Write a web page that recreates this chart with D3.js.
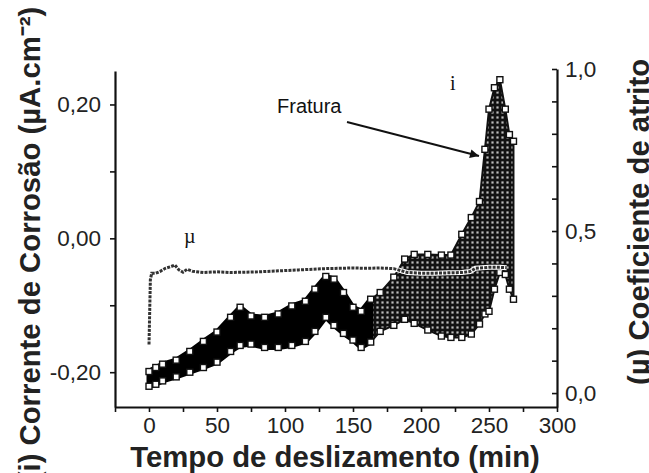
<!DOCTYPE html>
<html>
<head>
<meta charset="utf-8">
<script src="https://cdn.jsdelivr.net/npm/d3@7"></script>
<style>
  body { margin: 0; background: #fff; }
  svg { display: block; }
  .tick text { font-family: "Liberation Sans", Arial, sans-serif; font-size: 22.5px; fill: #222; }
  .title { font-family: "Liberation Sans", Arial, sans-serif; font-weight: bold; font-size: 29.3px; fill: #222; }
</style>
</head>
<body>
<script>
// time (min) and envelope of the corrosion current band (uA.cm-2)
var time = [0, 5, 10, 20, 30, 40, 50, 60, 67, 75, 85, 95, 105, 115, 122, 130, 136, 143, 150, 156, 163,
            170, 180, 188, 195, 205, 215, 222, 230, 237, 243, 247, 250, 254, 258, 262, 265, 268];
var iTop = [-0.199, -0.193, -0.188, -0.182, -0.169, -0.154, -0.140, -0.118, -0.103, -0.116, -0.118, -0.113,
            -0.101, -0.094, -0.076, -0.057, -0.061, -0.081, -0.103, -0.109, -0.091,
            -0.081, -0.058, -0.031, -0.024, -0.024, -0.025, -0.025, 0.006, 0.031, 0.055, 0.133, 0.193,
            0.225, 0.237, 0.193, 0.155, 0.145];
var iBottom = [-0.221, -0.218, -0.213, -0.207, -0.200, -0.193, -0.185, -0.169, -0.160, -0.158, -0.163, -0.163,
               -0.160, -0.154, -0.139, -0.118, -0.130, -0.142, -0.152, -0.163, -0.155,
               -0.139, -0.130, -0.121, -0.127, -0.137, -0.146, -0.148, -0.148, -0.143, -0.128, -0.113, -0.109,
               -0.076, -0.051, -0.054, -0.076, -0.091];
var breakTime = 163; // solid black before, open squares after

// friction coefficient
var muTime = [0, 0.5, 1, 2, 5, 8, 12, 16, 19, 22, 25, 28, 32, 40, 50, 60, 70, 80, 90, 100, 110, 120,
              130, 140, 150, 160, 170, 180, 190, 200, 210, 220, 230, 236, 240, 250, 258, 263];
var muValues = [0.15, 0.25, 0.35, 0.37, 0.37, 0.375, 0.385, 0.39, 0.395, 0.38, 0.373, 0.382, 0.376, 0.372,
                0.374, 0.372, 0.373, 0.374, 0.376, 0.378, 0.38, 0.382, 0.384, 0.385, 0.386, 0.385, 0.386,
                0.384, 0.372, 0.370, 0.370, 0.371, 0.372, 0.375, 0.385, 0.388, 0.388, 0.387];

var xTicks = [0, 50, 100, 150, 200, 250, 300];
var xMinor = [-25, 25, 75, 125, 175, 225, 275];
var leftTicks = [-0.2, 0, 0.2];
var leftMinor = [-0.1, 0.1];
var rightTicks = [0, 0.5, 1];
var rightMinor = [0.1, 0.2, 0.3, 0.4, 0.6, 0.7, 0.8, 0.9];

var W = 649, H = 473;
var svg = d3.select("body").append("svg").attr("width", W).attr("height", H);

var x = d3.scaleLinear().domain([-25, 300]).range([115, 557]);
var yL = d3.scaleLinear().domain([-0.252, 0.25]).range([407, 71]);
var yR = d3.scaleLinear().domain([-0.043, 1]).range([407, 69]);

var pt = d3.formatLocale({decimal: ",", thousands: ".", grouping: [3], currency: ["", ""], minus: "-"});
var f2 = pt.format(".2f"), f1 = pt.format(".1f");

// pattern for the open-square region
var defs = svg.append("defs");
var pat = defs.append("pattern").attr("id", "sq").attr("patternUnits", "userSpaceOnUse")
  .attr("width", 5).attr("height", 5);
pat.append("rect").attr("width", 5).attr("height", 5).attr("fill", "#111");
pat.append("rect").attr("x", 1.4).attr("y", 1.4).attr("width", 2.2).attr("height", 2.2).attr("fill", "#bbb");
defs.append("marker").attr("id", "arr").attr("viewBox", "0 0 10 10").attr("refX", 10).attr("refY", 5)
  .attr("markerWidth", 12).attr("markerHeight", 9).attr("markerUnits", "userSpaceOnUse")
  .attr("orient", "auto")
  .append("path").attr("d", "M0,0L10,5L0,10z").attr("fill", "#111");

var band = time.map(function(t, k){ return {t: t, top: iTop[k], bot: iBottom[k]}; });
var area = d3.area().x(function(d){ return x(d.t); })
  .y0(function(d){ return yL(d.bot); }).y1(function(d){ return yL(d.top); });

var early = band.filter(function(d){ return d.t <= breakTime; });
var late = band.filter(function(d){ return d.t >= breakTime; });

var g = svg.append("g");
g.append("path").datum(late).attr("d", area).attr("fill", "url(#sq)");
g.append("path").datum(late).attr("d", area).attr("fill", "none")
  .attr("stroke", "#111").attr("stroke-width", 2);
g.append("path").datum(early).attr("d", area).attr("fill", "#000")
  .attr("stroke", "#000").attr("stroke-width", 5).attr("stroke-linejoin", "round");

// open square markers along the envelopes
var edgePts = band.map(function(d){ return {t: d.t, v: d.top}; })
  .concat(band.map(function(d){ return {t: d.t, v: d.bot}; }));
g.selectAll("rect.m").data(edgePts).enter().append("rect").attr("class", "m")
  .attr("x", function(d){ return x(d.t) - 3; })
  .attr("y", function(d){ return yL(d.v) - 3; })
  .attr("width", 6).attr("height", 6)
  .attr("fill", "#fff").attr("stroke", "#111").attr("stroke-width", 1.4);

// friction coefficient line
var mu = muTime.map(function(t, k){ return {t: t, v: muValues[k]}; });
var muLine = d3.line().x(function(d){ return x(d.t); }).y(function(d){ return yR(d.v); });
g.append("path").datum(mu).attr("d", muLine).attr("fill", "none")
  .attr("stroke", "#fff").attr("stroke-width", 5);
g.append("path").datum(mu).attr("d", muLine).attr("fill", "none")
  .attr("stroke", "#333").attr("stroke-width", 3).attr("stroke-dasharray", "3,1.2");

// axes
function styleAxis(sel){
  sel.select(".domain").attr("stroke", "#111").attr("stroke-width", 2.2);
  sel.selectAll(".tick line").attr("stroke", "#111").attr("stroke-width", 1.6);
}
var ax = svg.append("g").attr("transform", "translate(0,407)")
  .call(d3.axisBottom(x).tickValues(xTicks.concat(xMinor)).tickSizeInner(5).tickSizeOuter(0).tickPadding(5)
    .tickFormat(function(d){ return xTicks.indexOf(d) >= 0 ? d : ""; }));
styleAxis(ax);
var al = svg.append("g").attr("transform", "translate(115,0)")
  .call(d3.axisLeft(yL).tickValues(leftTicks.concat(leftMinor)).tickSizeInner(5).tickSizeOuter(0).tickPadding(9)
    .tickFormat(function(d){ return leftTicks.indexOf(d) >= 0 ? f2(d) : ""; }));
styleAxis(al);
var ar = svg.append("g").attr("transform", "translate(557,0)")
  .call(d3.axisRight(yR).tickValues(rightTicks.concat(rightMinor)).tickSizeInner(-5).tickSizeOuter(0).tickPadding(8)
    .tickFormat(function(d){ return rightTicks.indexOf(d) >= 0 ? f1(d) : ""; }));
styleAxis(ar);

// titles
svg.append("text").attr("class", "title").attr("x", 335).attr("y", 467)
  .attr("text-anchor", "middle").text("Tempo de deslizamento (min)");
svg.append("text").attr("class", "title").attr("transform", "translate(40,244) rotate(-90)")
  .attr("text-anchor", "middle").text("(i) Corrente de Corrosão (µA.cm⁻²)");
svg.append("text").attr("class", "title").attr("transform", "translate(649,222) rotate(-90)")
  .attr("text-anchor", "middle").text("(µ) Coeficiente de atrito");

// annotations
svg.append("text").attr("x", 277).attr("y", 113)
  .style("font-family", "Liberation Sans, Arial, sans-serif").style("font-size", "20px").style("fill", "#111")
  .text("Fratura");
svg.append("line").attr("x1", 347).attr("y1", 122).attr("x2", 479).attr("y2", 156)
  .attr("stroke", "#111").attr("stroke-width", 2).attr("marker-end", "url(#arr)");
svg.append("text").attr("x", 450).attr("y", 90)
  .style("font-family", "Liberation Serif, Times New Roman, serif").style("font-size", "20px").style("fill", "#111")
  .text("i");
svg.append("text").attr("x", 184).attr("y", 243)
  .style("font-family", "Liberation Serif, Times New Roman, serif").style("font-size", "20px").style("fill", "#111")
  .text("µ");
</script>
</body>
</html>
